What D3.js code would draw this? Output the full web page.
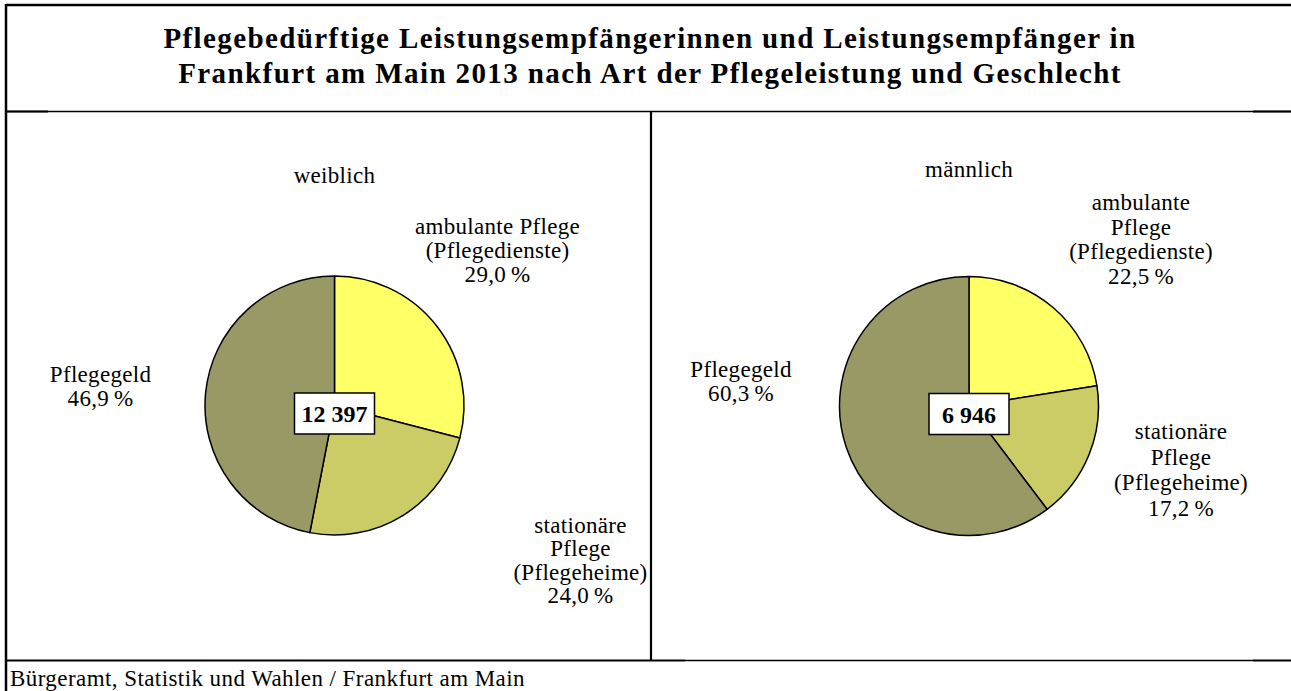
<!DOCTYPE html>
<html>
<head>
<meta charset="utf-8">
<script src="https://cdn.jsdelivr.net/npm/d3@7"></script>
<style>
  body { margin: 0; background: #fff; }
  svg { display: block; }
</style>
</head>
<body>
<div id="chart"></div>
<script>
var width = 1291;
var height = 691;

// data
var titleLines = ["Pflegebedürftige Leistungsempfängerinnen und Leistungsempfänger in",
                  "Frankfurt am Main 2013 nach Art der Pflegeleistung und Geschlecht"];
var categories = ["ambulante Pflege (Pflegedienste)", "stationäre Pflege (Pflegeheime)", "Pflegegeld"];
var groups = ["weiblich", "männlich"];
var totals = ["12 397", "6 946"];
var shareWeiblich = [29.0, 24.0, 46.9];
var shareMaennlich = [22.5, 17.2, 60.3];
var labelsWeiblich = [["ambulante Pflege", "(Pflegedienste)"], ["stationäre", "Pflege", "(Pflegeheime)"], ["Pflegegeld"]];
var labelsMaennlich = [["ambulante", "Pflege", "(Pflegedienste)"], ["stationäre", "Pflege", "(Pflegeheime)"], ["Pflegegeld"]];
var source = "Bürgeramt, Statistik und Wahlen / Frankfurt am Main";

var palette = ["#FFFF66", "#CCCC66", "#999966"];
var color = d3.scaleOrdinal().domain(categories).range(palette);

var fmt = function(v) { return d3.format(".1f")(v).replace(".", ",") + "\u202F%"; };

var svg = d3.select("#chart")
    .append("svg")
    .attr("width", width)
    .attr("height", height)
    .style("font-family", "'Liberation Serif', 'Times New Roman', 'DejaVu Serif', serif");

//------------------------- FRAME -------------------------\\
function line(x1, y1, x2, y2, w) {
    svg.append("line")
        .attr("x1", x1).attr("y1", y1).attr("x2", x2).attr("y2", y2)
        .attr("stroke", "#000").attr("stroke-width", w);
}
line(6, 5, width, 5, 2.5);       // top
line(6, 4, 6, height, 2.5);      // left
line(6, 111.5, width, 111.5, 1.3); // title separator
line(6, 111.5, 48, 111.5, 2.2);
line(1253, 111.5, width, 111.5, 2.2);
line(651, 111, 651, 661, 2.2);   // divider
line(6, 660.5, 685, 660.5, 2.2); // bottom
line(685, 660.5, 1253, 660.5, 1.3);
line(1253, 660.5, width, 660.5, 2.2);

//------------------------- TITLE -------------------------\\
svg.selectAll(".title")
    .data(titleLines)
    .join("text")
    .attr("class", "title")
    .attr("x", 650)
    .attr("y", (d, i) => 48 + i * 35)
    .attr("text-anchor", "middle")
    .style("font-weight", "700")
    .style("font-size", "29px")
    .style("letter-spacing", "1.4px")
    .text(d => d);

//------------------------- PIES -------------------------\\
var radius = 129.5;
var pie = d3.pie().sort(null).value(d => d.value);
var arc = d3.arc().innerRadius(0).outerRadius(radius);

var panels = [
    { name: groups[0], total: totals[0], values: shareWeiblich, labels: labelsWeiblich,
      cx: 334.5, cy: 405.5, titleY: 183,
      pos: [{ x: 163, y: -172, lh: 24 }, { x: 246, y: 127, lh: 23.5 }, { x: -234, y: -24, lh: 24 }] },
    { name: groups[1], total: totals[1], values: shareMaennlich, labels: labelsMaennlich,
      cx: 969, cy: 406, titleY: 177,
      pos: [{ x: 172, y: -196, lh: 24.5 }, { x: 212, y: 33, lh: 25.5 }, { x: -228, y: -29, lh: 24 }] }
];

panels.forEach(function(p) {
    var g = svg.append("g")
        .attr("transform", "translate(" + p.cx + "," + p.cy + ")");

    var data = categories.map((c, i) => ({ cat: c, value: p.values[i], label: p.labels[i] }));

    g.selectAll("path")
        .data(pie(data))
        .join("path")
        .attr("d", arc)
        .attr("fill", d => color(d.data.cat))
        .attr("stroke", "#000")
        .attr("stroke-width", 1.5)
        .attr("stroke-linejoin", "round");

    // group title
    svg.append("text")
        .attr("x", p.cx)
        .attr("y", p.titleY)
        .attr("text-anchor", "middle")
        .style("font-size", "23px")
        .style("letter-spacing", "0.3px")
        .text(p.name);

    // slice labels
    data.forEach(function(d, i) {
        var lines = d.label.concat([fmt(d.value)]);
        var t = g.append("text")
            .attr("text-anchor", "middle")
            .style("font-size", "23px")
            .style("letter-spacing", "0.3px");
        t.selectAll("tspan")
            .data(lines)
            .join("tspan")
            .attr("x", p.pos[i].x)
            .attr("y", (l, j) => p.pos[i].y + j * p.pos[i].lh)
            .text(l => l);
    });

    // total box
    var boxW = 80, boxH = 41;
    g.append("rect")
        .attr("x", -boxW / 2)
        .attr("y", 8 - boxH / 2)
        .attr("width", boxW)
        .attr("height", boxH)
        .attr("fill", "#fff")
        .attr("stroke", "#000")
        .attr("stroke-width", 1.5);
    g.append("text")
        .attr("x", 0)
        .attr("y", 16.5)
        .attr("text-anchor", "middle")
        .style("font-weight", "700")
        .style("font-size", "24px")
        .text(p.total);
});

//------------------------- SOURCE -------------------------\\
svg.append("text")
    .attr("x", 10)
    .attr("y", 686)
    .style("font-size", "23px")
    .style("letter-spacing", "0.43px")
    .text(source);
</script>
</body>
</html>
